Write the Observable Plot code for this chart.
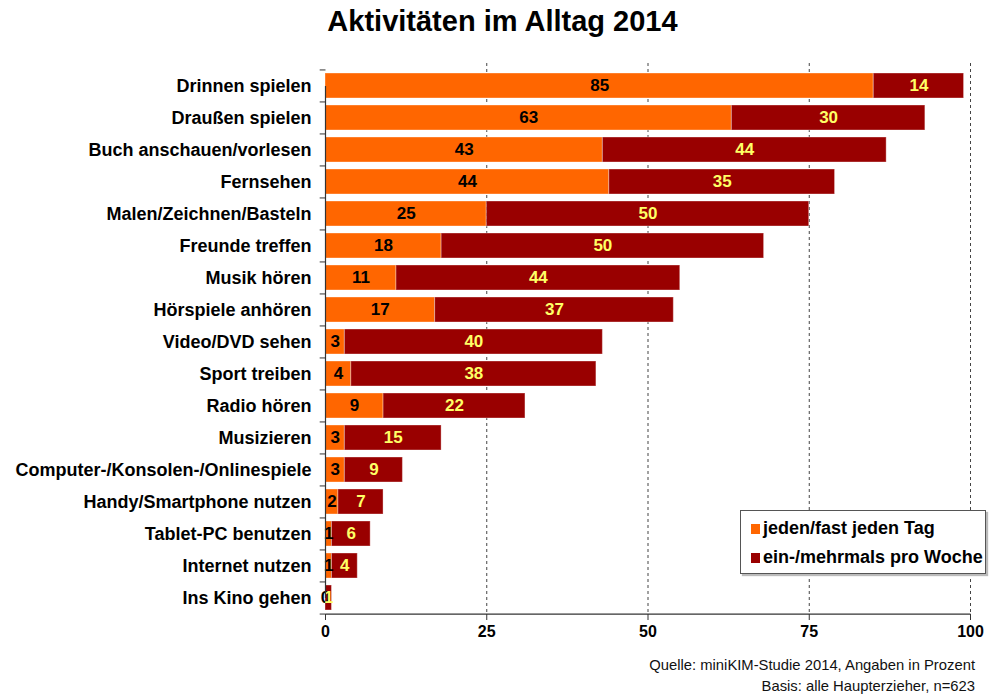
<!DOCTYPE html>
<html><head><meta charset="utf-8">
<script src="https://cdn.jsdelivr.net/npm/d3@7"></script>
<script src="https://cdn.jsdelivr.net/npm/@observablehq/plot@0.6"></script>
<style>
body{margin:0;background:#fff;font-family:"Liberation Sans",Arial,sans-serif;}
#wrap{position:relative;width:989px;height:696px;overflow:hidden;}
#title{position:absolute;top:5px;left:8px;width:989px;text-align:center;font-weight:bold;font-size:29px;font-family:"Liberation Sans Narrow","Liberation Sans",sans-serif;}
#chart{position:absolute;top:50px;left:0;}
#legend{position:absolute;left:740px;top:510px;width:244px;height:62px;border:1px solid #555;background:#fff;box-shadow:2px 2px 1px #bbb;font-weight:bold;font-size:18px;}
#legend div{position:absolute;left:10px;white-space:nowrap;line-height:20px;}
#legend span{display:inline-block;width:9px;height:10px;margin-right:3px;}
#foot{position:absolute;right:14px;top:655px;text-align:right;font-size:14.8px;line-height:21px;color:#111;}
</style></head>
<body><div id="wrap">
<div id="title">Aktivitäten im Alltag 2014</div>
<div id="chart"></div>
<div id="legend"></div>
<div id="foot"></div>
</div>
<script>
const categories = ["Drinnen spielen","Draußen spielen","Buch anschauen/vorlesen","Fernsehen","Malen/Zeichnen/Basteln","Freunde treffen","Musik hören","Hörspiele anhören","Video/DVD sehen","Sport treiben","Radio hören","Musizieren","Computer-/Konsolen-/Onlinespiele","Handy/Smartphone nutzen","Tablet-PC benutzen","Internet nutzen","Ins Kino gehen"];
const daily  = [85,63,43,44,25,18,11,17,3,4,9,3,3,2,1,1,0];
const weekly = [14,30,44,35,50,50,44,37,40,38,22,15,9,7,6,4,1];
const seriesNames = ["jeden/fast jeden Tag","ein-/mehrmals pro Woche"];
const seriesColors = ["#ff6600","#990000"];
const labelColors = ["#000000","#ffff66"];
const xTicks = [0,25,50,75,100];
const sourceLines = ["Quelle: miniKIM-Studie 2014, Angaben in Prozent","Basis: alle Haupterzieher, n=623"];

const rows = [];
categories.forEach((c,i)=>{
  rows.push({cat:c, series:seriesNames[0], value:daily[i], idx:0});
  rows.push({cat:c, series:seriesNames[1], value:weekly[i], idx:1});
});

const yTop = 18, yBottom = 564;
const step = (yBottom - yTop)/categories.length;
const lastCat = categories[categories.length-1];
const chart = Plot.plot({
  width: 989, height: 601,
  marginLeft: 325, marginRight: 19, marginTop: 13, marginBottom: 37,
  style: {fontFamily: "'Liberation Sans', Arial, sans-serif", fontSize: "14px", color:"#000", background:"transparent"},
  x: {domain:[0,100], ticks: xTicks, label: null},
  y: {domain: categories, label: null, range:[yTop, yBottom], paddingInner: 0.22, paddingOuter: 0.11},
  color: {domain: seriesNames, range: seriesColors},
  marks: [
    Plot.ruleX(xTicks.slice(1), {stroke:"#444", strokeDasharray:"3,3", strokeWidth:1}),
    Plot.barX(rows, Plot.stackX({x:"value", y:"cat", fill:"series", order: seriesNames, stroke:"#fff", strokeOpacity:0.35, strokeWidth:1})),
    Plot.text(rows, Plot.stackX({x:"value", y:"cat", z:"series", order: seriesNames, text: d=>String(d.value),
      fill: d=>labelColors[d.idx], fontWeight:"bold", fontSize:17})),
    Plot.link(categories.slice(0,1), {x1: ()=>0, x2: ()=>0, y1: d=>d, y2: ()=>lastCat, dy: 0, stroke:"#333", strokeWidth:1.2}),
    Plot.link([lastCat], {x1: ()=>0, x2: ()=>100, y1: d=>d, y2: d=>d, dy: step/2, stroke:"#333", strokeWidth:1.2}),
    Plot.link([categories[0]], {x1: ()=>0, x2: ()=>0, y1: d=>d, y2: d=>d, dy: -step/2, stroke:"#333"}),
    Plot.axisY({tickSize:0, tickPadding:14, fontWeight:"bold", fontSize:18, label:null}),
    Plot.link(categories, {x1: ()=>-0.9, x2: ()=>0, y1: d=>d, y2: d=>d, dy: -step/2, stroke:"#333"}),
    Plot.link([lastCat], {x1: ()=>-0.9, x2: ()=>0, y1: d=>d, y2: d=>d, dy: step/2, stroke:"#333"}),
    Plot.axisX({ticks: xTicks, tickSize:6, tickPadding:5, fontWeight:"bold", fontSize:16, label:null, stroke:"#333"})
  ]
});
document.getElementById("chart").appendChild(chart);

const lg = document.getElementById("legend");
seriesNames.forEach((s,i)=>{
  const d = document.createElement("div");
  d.style.top = (7 + i*29) + "px";
  d.innerHTML = `<span style="background:${seriesColors[i]}"></span>${s}`;
  lg.appendChild(d);
});
document.getElementById("foot").innerHTML = sourceLines.join("<br>");
</script>
</body></html>
